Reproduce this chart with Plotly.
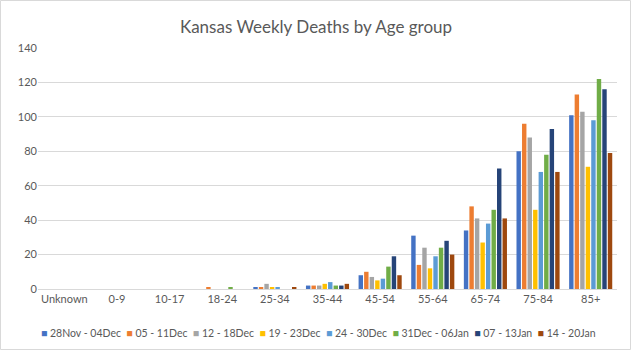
import plotly.graph_objects as go

categories = ["Unknown", "0-9", "10-17", "18-24", "25-34", "35-44", "45-54", "55-64", "65-74", "75-84", "85+"]

week_28nov_04dec = [0, 0, 0, 0, 1, 2, 8, 31, 34, 80, 101]
week_05_11dec = [0, 0, 0, 1, 1, 2, 10, 14, 48, 96, 113]
week_12_18dec = [0, 0, 0, 0, 3, 2, 7, 24, 41, 88, 103]
week_19_23dec = [0, 0, 0, 0, 1, 3, 5, 12, 27, 46, 71]
week_24_30dec = [0, 0, 0, 0, 1, 4, 6, 19, 38, 68, 98]
week_31dec_06jan = [0, 0, 0, 1, 0, 2, 13, 24, 46, 78, 122]
week_07_13jan = [0, 0, 0, 0, 0, 2, 19, 28, 70, 93, 116]
week_14_20jan = [0, 0, 0, 0, 1, 3, 8, 20, 41, 68, 79]

series_names = ["28Nov - 04Dec", "05 - 11Dec", "12 - 18Dec", "19 - 23Dec",
                "24 - 30Dec", "31Dec - 06Jan", "07 - 13Jan", "14 - 20Jan"]
series_values = [week_28nov_04dec, week_05_11dec, week_12_18dec, week_19_23dec,
                 week_24_30dec, week_31dec_06jan, week_07_13jan, week_14_20jan]
colors = ["#4472C4", "#ED7D31", "#A5A5A5", "#FFC000",
          "#5B9BD5", "#70AD47", "#264478", "#9E480E"]

fig = go.Figure()
for name, vals, col in zip(series_names, series_values, colors):
    fig.add_trace(go.Bar(name=name, x=categories, y=vals, marker_color=col,
                         marker_line_width=0, showlegend=False))

W, H = 632, 351
ml, mr, mt, mb = 38, 15, 48, 62
pw = W - ml - mr
ph = H - mt - mb

# compact Excel-like legend built from the series names and colours
legend_text = "&nbsp;&nbsp;".join(
    f"<span style='color:{c}'>■</span>&nbsp;{n}" for n, c in zip(series_names, colors)
)

font_family = "Lato, Open Sans, sans-serif"

fig.update_layout(
    width=W, height=H,
    margin=dict(l=ml, r=mr, t=mt, b=mb, autoexpand=False),
    paper_bgcolor="white", plot_bgcolor="white",
    font=dict(family=font_family, color="#595959", size=11),
    title=dict(text="Kansas Weekly Deaths by Age group", x=0.5, xanchor="center",
               y=1 - 27 / H, yanchor="middle",
               font=dict(size=17, color="#595959", family=font_family)),
    barmode="group", bargap=0.16, bargroupgap=0.2,
    showlegend=False,
    xaxis=dict(showgrid=False, showline=True, linecolor="#D9D9D9", linewidth=1,
               ticks="", tickfont=dict(size=11, color="#595959")),
    yaxis=dict(range=[0, 140], dtick=20, showgrid=True, gridcolor="#D9D9D9",
               gridwidth=1, zeroline=False, showline=False, ticks="",
               tickfont=dict(size=11, color="#595959")),
    annotations=[dict(text=legend_text, xref="paper", yref="paper",
                      x=(318 - ml) / pw, y=-(333 - (mt + ph)) / ph,
                      xanchor="center", yanchor="middle", showarrow=False,
                      font=dict(size=10.5, color="#595959", family=font_family))],
    shapes=[dict(type="rect", xref="paper", yref="paper",
                 x0=(-ml + 0.5) / pw, x1=1 + (mr - 1.5) / pw,
                 y0=-(mb - 1.5) / ph, y1=1 + (mt - 0.5) / ph,
                 line=dict(color="#D9D9D9", width=1), layer="below")],
)

fig.write_html("out.html")
